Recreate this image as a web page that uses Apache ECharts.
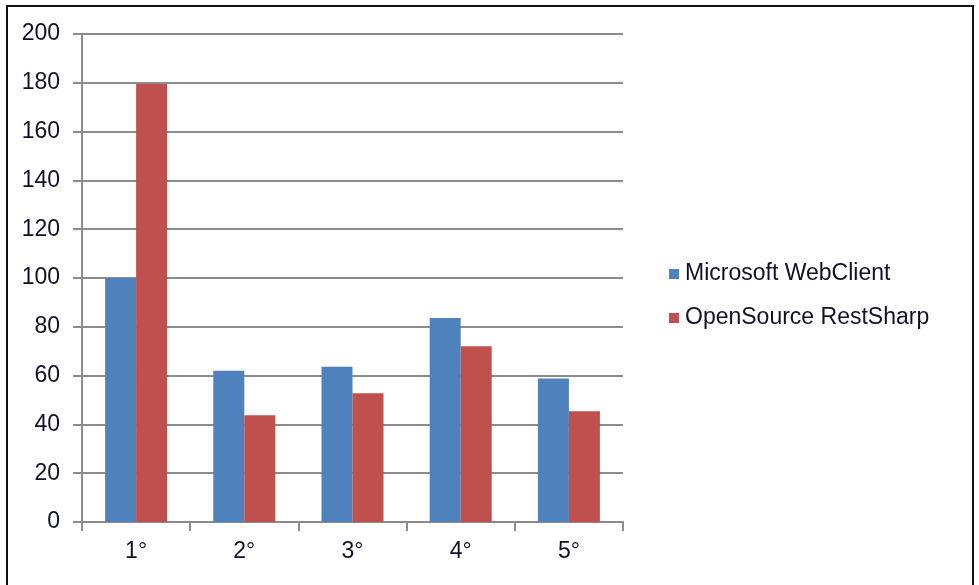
<!DOCTYPE html>
<html>
<head>
<meta charset="utf-8">
<script src="https://cdn.jsdelivr.net/npm/echarts@6/dist/echarts.min.js"></script>
<style>
  html, body { margin: 0; padding: 0; background: #fff; }
  #frame { position: absolute; left: 6px; top: 5px; width: 964px; height: 620px; border: 2px solid #111; }
  #chart { position: absolute; left: 0; top: 0; width: 979px; height: 585px; }
</style>
</head>
<body>
<div id="frame"></div>
<div id="chart"></div>
<script>
// categories and values
const categories = ['1°', '2°', '3°', '4°', '5°']
const seriesNames = ['Microsoft WebClient', 'OpenSource RestSharp']
const webClient = [100, 62, 63.6, 83.6, 58.8]
const restSharp = [179.5, 43.8, 52.8, 72, 45.4]

const font = 'Arial, "Liberation Sans", sans-serif'
const textColor = '#10102a'

let mychart = echarts.init(document.getElementById('chart'))
mychart.setOption({
  animation: false,
  color: ['#4F81BD', '#C0504D'],
  grid: {
    left: 82,
    right: 356,
    top: 34,
    bottom: 63,
  },
  legend: {
    orient: 'vertical',
    left: 664,
    top: 257,
    itemWidth: 10,
    itemHeight: 10,
    itemGap: 20,
    icon: 'rect',
    data: seriesNames,
    textStyle: {
      fontFamily: font,
      fontSize: 23,
      lineHeight: 24,
      color: textColor,
      padding: [0, 0, 0, 1],
    },
  },
  xAxis: {
    type: 'category',
    data: categories,
    axisLine: { lineStyle: { color: '#8c8c8c', width: 2 } },
    axisTick: { show: true, length: 9, lineStyle: { color: '#8c8c8c', width: 2 } },
    axisLabel: { fontFamily: font, fontSize: 23, color: textColor, margin: 18 },
  },
  yAxis: {
    type: 'value',
    min: 0,
    max: 200,
    interval: 20,
    axisLine: { show: true, lineStyle: { color: '#8c8c8c', width: 2 } },
    axisTick: { show: true, length: 9, lineStyle: { color: '#8c8c8c', width: 2 } },
    axisLabel: { fontFamily: font, fontSize: 23, color: textColor, margin: 22 },
    splitLine: { lineStyle: { color: '#8c8c8c', width: 2 } },
  },
  series: [
    {
      name: seriesNames[0],
      type: 'bar',
      barWidth: 31,
      barGap: '0%',
      data: webClient,
    },
    {
      name: seriesNames[1],
      type: 'bar',
      barWidth: 31,
      barGap: '0%',
      data: restSharp,
    },
  ],
})
</script>
</body>
</html>
